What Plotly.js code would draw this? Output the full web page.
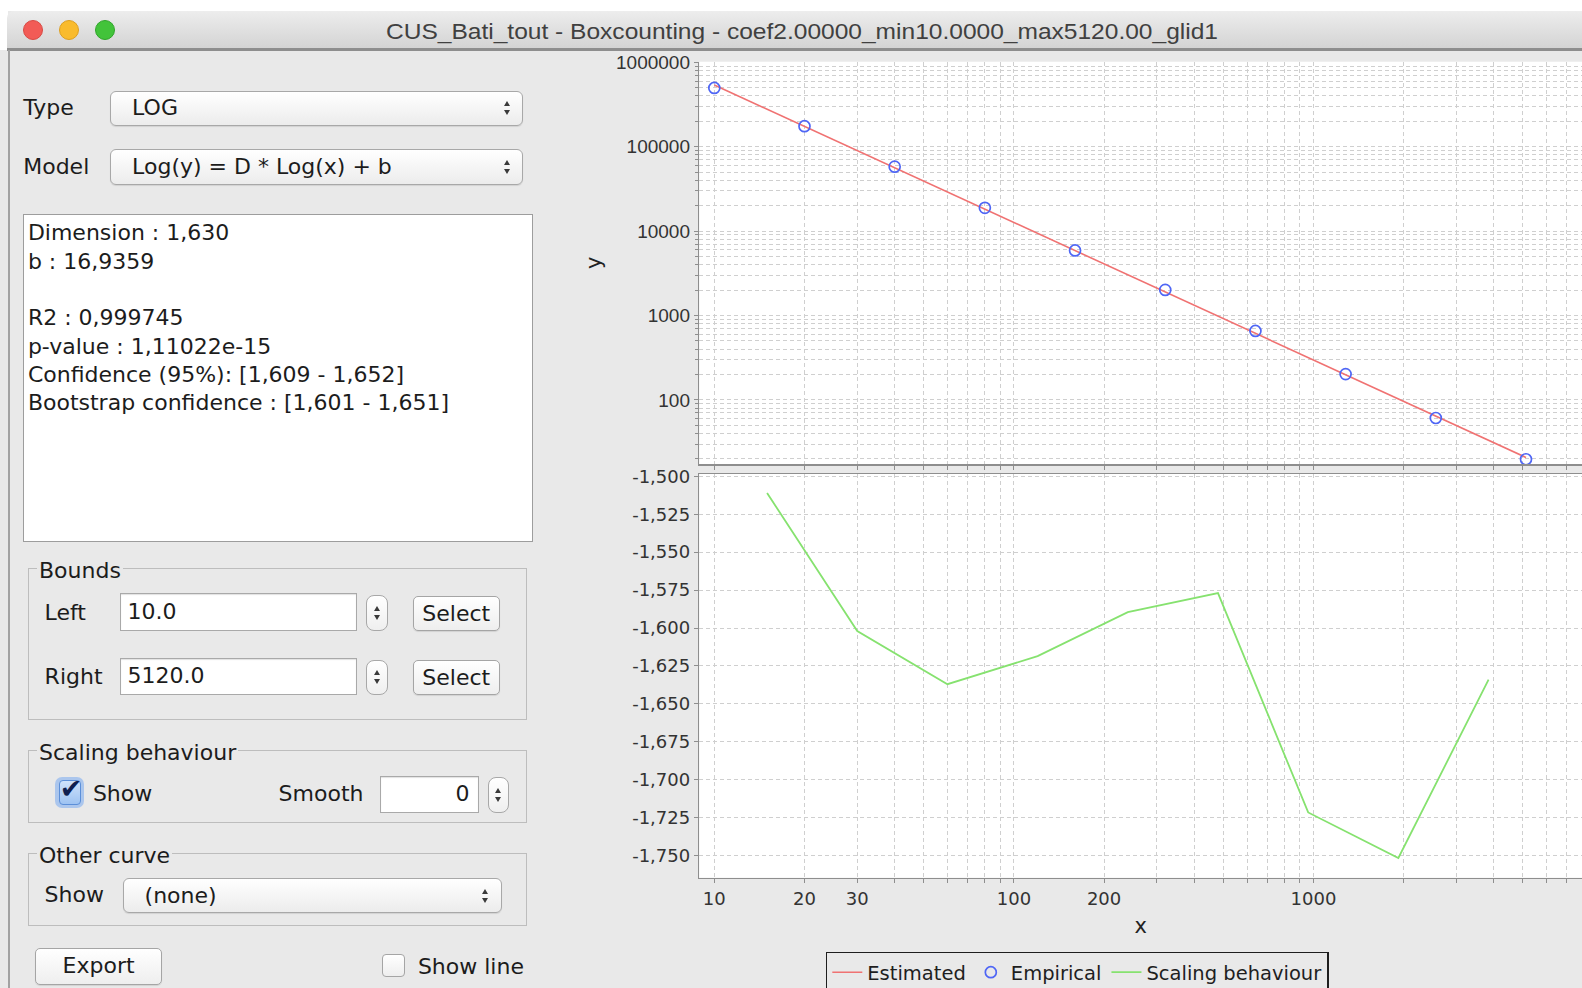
<!DOCTYPE html>
<html>
<head>
<meta charset="utf-8">
<script src="https://cdn.plot.ly/plotly-3.0.1.min.js"></script>
<style>
html,body{margin:0;padding:0;}
body{width:1582px;height:988px;overflow:hidden;background:#e9e9e9;position:relative;font-family:"DejaVu Sans",sans-serif;color:#1c1c1c;}
#ui{position:absolute;left:0;top:0;width:1582px;height:988px;}
#plot{position:absolute;left:0;top:0;width:1582px;height:1010px;}
</style>
</head>
<body>
<div id="ui"></div>
<div id="plot"></div>
<script>
// ---------------- DATA ----------------
const boxSize   = [10, 20, 40, 80, 160, 320, 640, 1280, 2560, 5120];
const empirical = [497000, 175000, 58000, 18850, 5900, 2010, 656, 202, 61, 19.8];
const estimated = [537000, 174000, 56400, 18200, 5890, 1900, 615, 199, 64.4, 20.8];
const scaleX    = [15, 30, 60, 120, 240, 480, 960, 1920, 3840];
const scaleY    = [-1.511, -1.602, -1.637, -1.6185, -1.5895, -1.577, -1.7215, -1.7515, -1.634];

const xTickVals  = [10, 20, 30, 100, 200, 1000];
const xTickText  = ['10', '20', '30', '100', '200', '1000'];
const xMinorVals = [40, 50, 60, 70, 80, 90, 300, 400, 500, 600, 700, 800, 900, 2000, 3000, 4000, 5000, 6000, 7000];
const yTopVals   = [100, 1000, 10000, 100000, 1000000];
const yTopText   = ['100', '1000', '10000', '100000', '1000000'];
const yTopMinor  = [20,30,40,50,60,70,80,90, 200,300,400,500,600,700,800,900,
                    2000,3000,4000,5000,6000,7000,8000,9000, 20000,30000,40000,50000,60000,70000,80000,90000,
                    200000,300000,400000,500000,600000,700000,800000,900000];
const yBotVals   = [-1.5, -1.525, -1.55, -1.575, -1.6, -1.625, -1.65, -1.675, -1.7, -1.725, -1.75];
const yBotText   = ['-1,500','-1,525','-1,550','-1,575','-1,600','-1,625','-1,650','-1,675','-1,700','-1,725','-1,750'];

const windowTitle = 'CUS_Bati_tout - Boxcounting - coef2.00000_min10.0000_max5120.00_glid1';
const resultLines = ['Dimension : 1,630', 'b : 16,9359', '', 'R2 : 0,999745', 'p-value : 1,11022e-15',
                     'Confidence (95%): [1,609 - 1,652]', 'Bootstrap confidence : [1,601 - 1,651]'];
const legendNames = ['Estimated', 'Empirical', 'Scaling behaviour'];

// ---------------- WINDOW UI ----------------
const ui = document.getElementById('ui');
function el(css, text){
  const d = document.createElement('div');
  d.style.cssText = 'position:absolute;box-sizing:border-box;' + css;
  if (text !== undefined) d.textContent = text;
  ui.appendChild(d); return d;
}
function label(text, x, cy, extra){
  return el(`left:${x}px;top:${cy-15}px;height:30px;line-height:30px;font-size:22px;white-space:pre;${extra||''}`, text);
}
function arrows(cx, cy){
  el(`left:${cx-3.5}px;top:${cy-7}px;width:0;height:0;border-left:3.5px solid transparent;border-right:3.5px solid transparent;border-bottom:5px solid #3a3a3a;`);
  el(`left:${cx-3.5}px;top:${cy+2}px;width:0;height:0;border-left:3.5px solid transparent;border-right:3.5px solid transparent;border-top:5px solid #3a3a3a;`);
}
function combo(x1,y1,x2,y2,text,tx){
  el(`left:${x1}px;top:${y1}px;width:${x2-x1}px;height:${y2-y1}px;border:1px solid #a8a8a8;border-radius:6px;background:linear-gradient(#ffffff,#ececec);box-shadow:0 1px 1px rgba(0,0,0,0.10);`);
  label(text, tx, (y1+y2)/2);
  arrows(x2-16, (y1+y2)/2);
}
function field(x1,y1,x2,y2,text,tx,right){
  el(`left:${x1}px;top:${y1}px;width:${x2-x1}px;height:${y2-y1}px;border:1px solid #a9a9a9;background:#fff;box-shadow:inset 0 1px 1px rgba(0,0,0,0.12);`);
  if (right) el(`left:${x1}px;top:${(y1+y2)/2-15}px;width:${x2-x1-9}px;height:30px;line-height:30px;font-size:22px;text-align:right;`, text);
  else label(text, tx, (y1+y2)/2);
}
function spinner(x1,y1,x2,y2){
  el(`left:${x1}px;top:${y1}px;width:${x2-x1}px;height:${y2-y1}px;border:1px solid #a8a8a8;border-radius:8px;background:linear-gradient(#ffffff,#efefef);`);
  arrows((x1+x2)/2, (y1+y2)/2);
}
function button(x1,y1,x2,y2,text){
  el(`left:${x1}px;top:${y1}px;width:${x2-x1}px;height:${y2-y1}px;border:1px solid #a5a5a5;border-radius:5px;background:linear-gradient(#ffffff,#eeeeee);box-shadow:0 1px 1px rgba(0,0,0,0.10);line-height:${y2-y1-2}px;text-align:center;font-size:22px;`, text);
}
function group(x1,y1,x2,y2,title,cy){
  el(`left:${x1}px;top:${y1}px;width:${x2-x1}px;height:${y2-y1}px;border:1px solid #bdbdbd;`);
  label(title, 37, cy, 'background:#e9e9e9;padding:0 2px;');
}

// top white strip & title bar
el('left:0;top:0;width:1582px;height:11px;background:#fff;');
el('left:0;top:11px;width:8px;height:39px;background:#fff;');
el('left:7px;top:11px;width:1575px;height:38px;border-radius:7px 0 0 0;background:linear-gradient(#ededed,#d3d3d3);');
el('left:7px;top:48px;width:1575px;height:3px;background:#8e8e8e;');
el('left:8px;top:50px;width:2px;height:938px;background:#a2a2a2;');
el('left:23.3px;top:20.3px;width:20px;height:20px;border-radius:50%;background:#f25b56;border:1px solid #d84a44;');
el('left:58.6px;top:20.3px;width:20px;height:20px;border-radius:50%;background:#f9bb2d;border:1px solid #dd9f20;');
el('left:94.9px;top:20.3px;width:20px;height:20px;border-radius:50%;background:#42c33a;border:1px solid #2fa52a;');
const svgNS = 'http://www.w3.org/2000/svg';
const tsvg = document.createElementNS(svgNS,'svg');
tsvg.setAttribute('width','1582'); tsvg.setAttribute('height','60');
tsvg.style.cssText = 'position:absolute;left:0;top:0;';
const tt = document.createElementNS(svgNS,'text');
tt.setAttribute('x','386'); tt.setAttribute('y','38.5');
tt.setAttribute('textLength','832'); tt.setAttribute('lengthAdjust','spacingAndGlyphs');
tt.setAttribute('font-family','Liberation Sans'); tt.setAttribute('font-size','22');
tt.setAttribute('fill','#404040');
tt.textContent = windowTitle;
tsvg.appendChild(tt); ui.appendChild(tsvg);

// left panel
label('Type', 23.2, 108.3);
combo(109.6, 90.7, 523.2, 126, 'LOG', 132.1);
label('Model', 23.2, 167.3);
combo(109.6, 149.3, 523.2, 185, 'Log(y) = D * Log(x) + b', 132.1);
el('left:23.2px;top:214.3px;width:509.7px;height:327.4px;border:1px solid #9d9d9d;background:#fff;');
resultLines.forEach((t,i)=>{ label(t, 27.9, 233.3 + i*28.3); });

group(27.9, 568.3, 526.8, 720, 'Bounds', 571);
label('Left', 44.6, 613.3);
field(120.4, 593.3, 357, 630.7, '10.0', 127.5);
spinner(366, 595, 388.2, 630.7);
button(412.5, 595.7, 500, 630.7, 'Select');
label('Right', 44.6, 676.7);
field(120.4, 657.7, 357, 695, '5120.0', 127.5);
spinner(366, 659.5, 388.2, 695);
button(412.5, 660, 500, 695, 'Select');

group(27.9, 750, 526.8, 823.3, 'Scaling behaviour', 752.7);
el('left:55.4px;top:776.7px;width:28.6px;height:31.6px;border-radius:7px;background:rgba(120,170,240,0.55);');
el('left:58.5px;top:780px;width:22.5px;height:25px;border-radius:4px;border:1px solid #5c8fd8;background:linear-gradient(#cfe2fb,#9ec3f2);');
el('left:57px;top:773px;width:28px;height:32px;line-height:32px;font-size:27px;font-weight:bold;color:#0f1f50;text-align:center;', '\u2714');
label('Show', 92.9, 794);
label('Smooth', 278.6, 794);
field(380.4, 776, 478.6, 812.7, '0', 0, true);
spinner(487.5, 776.5, 509, 812.7);

group(27.9, 853.3, 526.8, 925.7, 'Other curve', 856);
label('Show', 44.6, 895);
combo(122.5, 878.3, 501.8, 912.7, '(none)', 144.6);

button(34.6, 948.3, 162.5, 985, 'Export');
el('left:382px;top:954px;width:23.4px;height:22.7px;border:1px solid #a5a5a5;border-radius:4px;background:linear-gradient(#ffffff,#eeeeee);');
label('Show line', 417.9, 966.7);

// ---------------- PLOT ----------------
const H = 1010, W = 1582;
const py = p => 1 - p / H;
const gridCol = '#cfcfcf', axCol = '#8e8e8e', dashPat = '4px,3px';

const traces = [
  {name: legendNames[0], x: boxSize, y: estimated, xaxis: 'x2', yaxis: 'y', mode: 'lines',
   line: {color: '#f07272', width: 1.6}},
  {name: legendNames[1], x: boxSize, y: empirical, xaxis: 'x2', yaxis: 'y', mode: 'markers',
   marker: {symbol: 'circle-open', size: 11, color: '#4f66f5', line: {width: 1.7}}},
  {name: legendNames[2], x: scaleX, y: scaleY, xaxis: 'x', yaxis: 'y2', mode: 'lines',
   line: {color: '#86e26f', width: 1.8}}
];

const xCommon = {
  type: 'log', domain: [699.3 / W, 1], range: [0.9499, 3.8962],
  tickmode: 'array', tickvals: xTickVals, ticktext: xTickText,
  ticks: 'outside', ticklen: 4, tickwidth: 1, tickcolor: axCol,
  showline: true, linecolor: axCol, linewidth: 1.5,
  showgrid: true, gridcolor: gridCol, gridwidth: 1, griddash: dashPat, zeroline: false,
  minor: {tickmode: 'array', tickvals: xMinorVals, ticks: 'outside', ticklen: 4, tickcolor: axCol,
          showgrid: true, gridcolor: gridCol, gridwidth: 1, griddash: dashPat},
  tickfont: {family: 'DejaVu Sans', size: 18, color: '#333'}
};

const layout = {
  width: W, height: H,
  margin: {l: 0, r: 0, t: 0, b: 0, autoexpand: false},
  paper_bgcolor: 'rgba(0,0,0,0)', plot_bgcolor: '#ffffff',
  font: {family: 'DejaVu Sans', size: 18, color: '#333'},
  showlegend: true,
  xaxis: Object.assign({}, xCommon, {anchor: 'y2', mirror: true,
    title: {text: 'x', font: {family: 'DejaVu Sans', size: 21, color: '#222'}, standoff: 10}}),
  xaxis2: Object.assign({}, xCommon, {anchor: 'y', showticklabels: false}),
  yaxis: {
    type: 'log', domain: [py(464), py(61.7)], anchor: 'x2', range: [1.2405, 6.007],
    tickmode: 'array', tickvals: yTopVals, ticktext: yTopText,
    ticks: 'outside', ticklen: 4, tickwidth: 1, tickcolor: axCol,
    showline: true, linecolor: axCol, linewidth: 1.5,
    showgrid: true, gridcolor: gridCol, gridwidth: 1, griddash: dashPat, zeroline: false,
    minor: {tickmode: 'array', tickvals: yTopMinor, ticks: 'outside', ticklen: 3, tickcolor: axCol,
            showgrid: true, gridcolor: gridCol, gridwidth: 1, griddash: dashPat},
    tickfont: {family: 'Liberation Sans', size: 19, color: '#333'},
    title: {text: 'y', font: {family: 'DejaVu Sans', size: 21, color: '#222'}, standoff: 8}
  },
  yaxis2: {
    domain: [py(877.7), py(474)], anchor: 'x', range: [-1.7645, -1.4985],
    tickmode: 'array', tickvals: yBotVals, ticktext: yBotText,
    ticks: 'outside', ticklen: 4, tickwidth: 1, tickcolor: axCol,
    showline: true, linecolor: axCol, linewidth: 1.5,
    showgrid: true, gridcolor: gridCol, gridwidth: 1, griddash: dashPat, zeroline: false,
    tickfont: {family: 'DejaVu Sans', size: 18, color: '#333'}
  },
  legend: {
    orientation: 'h', x: 825.8 / W, y: py(951.5), xanchor: 'left', yanchor: 'top',
    bgcolor: 'rgba(0,0,0,0)', bordercolor: '#1e1e1e', borderwidth: 1.5,
    font: {family: 'DejaVu Sans', size: 19.5, color: '#1e1e1e'}, itemwidth: 30
  }
};

Plotly.newPlot('plot', traces, layout, {staticPlot: true, displayModeBar: false});
</script>
</body>
</html>
